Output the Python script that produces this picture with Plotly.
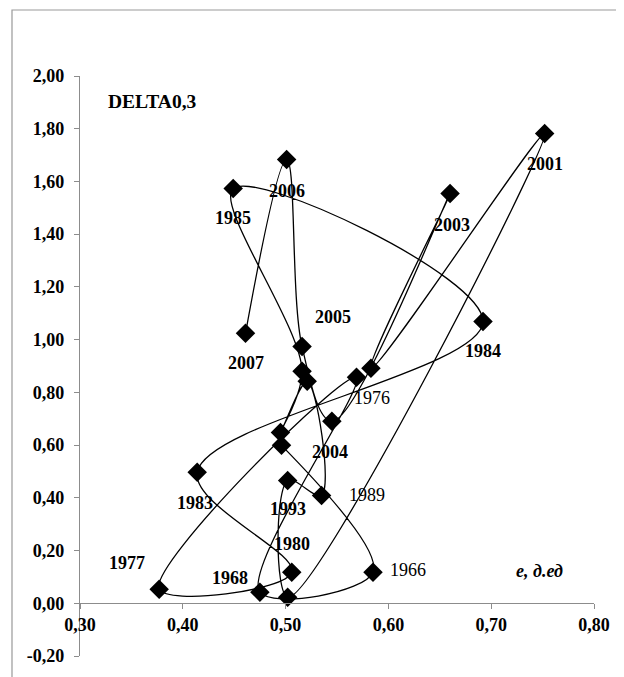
import plotly.graph_objects as go

# Points in the order the curve connects them
e_values = [0.496, 0.585, 0.475, 0.569, 0.377, 0.506, 0.414, 0.692, 0.449,
            0.516, 0.495, 0.521, 0.535, 0.502, 0.502, 0.752, 0.583, 0.660,
            0.545, 0.516, 0.501, 0.461]
delta_values = [0.599, 0.118, 0.042, 0.857, 0.053, 0.118, 0.497, 1.069, 1.573,
                0.880, 0.648, 0.842, 0.409, 0.466, 0.023, 1.782, 0.891, 1.554,
                0.690, 0.974, 1.683, 1.024]
year_labels = ["", "1966", "1968", "1976", "1977", "1980", "1983", "1984", "1985",
               "", "", "", "1989", "1993", "", "2001", "", "2003",
               "2004", "2005", "2006", "2007"]

x_ticks = [0.30, 0.40, 0.50, 0.60, 0.70, 0.80]
y_ticks = [-0.20, 0.00, 0.20, 0.40, 0.60, 0.80, 1.00, 1.20, 1.40, 1.60, 1.80, 2.00]


def fmt(v):
    return ("%.2f" % v).replace(".", ",")


# label placement (pixel offsets from the marker, style only)
label_offsets = {
    "1966": (35, 2), "1968": (-30, 14), "1976": (15, -21), "1977": (-32, 26),
    "1980": (0, 28), "1983": (-2, -31), "1984": (0, -30), "1985": (0, -29),
    "1989": (45, 0), "1993": (0, -29), "2001": (0, -31), "2003": (2, -31),
    "2004": (-2, -31), "2005": (31, 29), "2006": (0, -31), "2007": (0, -30),
}
light_labels = {"1966", "1989", "1976"}

FONT = "Liberation Serif"

fig = go.Figure()
fig.add_trace(go.Scatter(
    x=e_values, y=delta_values, mode="lines+markers",
    line=dict(color="black", width=1.3, shape="spline", smoothing=1.0),
    marker=dict(symbol="diamond", size=15, color="black"),
    cliponaxis=False, showlegend=False, hoverinfo="x+y",
))

annotations = []
for xv, yv, lab in zip(e_values, delta_values, year_labels):
    if not lab:
        continue
    dx, dy = label_offsets[lab]
    txt = lab if lab in light_labels else "<b>" + lab + "</b>"
    annotations.append(dict(x=xv, y=yv, xref="x", yref="y", text=txt,
                            showarrow=False, xshift=dx, yshift=dy,
                            font=dict(family=FONT, size=18, color="black")))

annotations.append(dict(x=0.371, y=1.903, xref="x", yref="y", text="<b>DELTA0,3</b>",
                        showarrow=False, font=dict(family=FONT, size=19.5, color="black")))
annotations.append(dict(x=0.747, y=0.121, xref="x", yref="y", text="<b><i>e, д.ед</i></b>",
                        showarrow=False, font=dict(family=FONT, size=18, color="black")))

y0, y1 = -0.2, 2.0
tickfont = dict(family=FONT, size=18, color="black", weight="bold")
fig.update_layout(
    width=616, height=669,
    margin=dict(l=72, r=30, t=68, b=21, autoexpand=False),
    paper_bgcolor="white", plot_bgcolor="white",
    font=dict(family=FONT, size=18, color="black"),
    annotations=annotations,
    xaxis=dict(range=[0.3, 0.8], tickvals=x_ticks, ticktext=[fmt(v) for v in x_ticks],
               showline=True, linecolor="#8c8c8c", linewidth=1.2,
               ticks="outside", ticklen=5, tickcolor="#8c8c8c",
               showgrid=False, zeroline=False, anchor="free",
               position=(0 - y0) / (y1 - y0), automargin=False,
               tickfont=tickfont),
    yaxis=dict(range=[y0, y1], tickvals=y_ticks, ticktext=[fmt(v) for v in y_ticks],
               showline=True, linecolor="#8c8c8c", linewidth=1.2,
               ticks="outside", ticklen=5, tickcolor="#8c8c8c",
               ticklabelstandoff=6,
               showgrid=False, zeroline=False, domain=[0, 1], automargin=False,
               tickfont=tickfont),
    shapes=[dict(type="rect", xref="paper", yref="paper",
                 x0=-0.1323, x1=1.2, y0=-0.2, y1=1.1138,
                 line=dict(color="#9a9a9a", width=1.2), layer="below")],
)

fig.write_html("out.html")
